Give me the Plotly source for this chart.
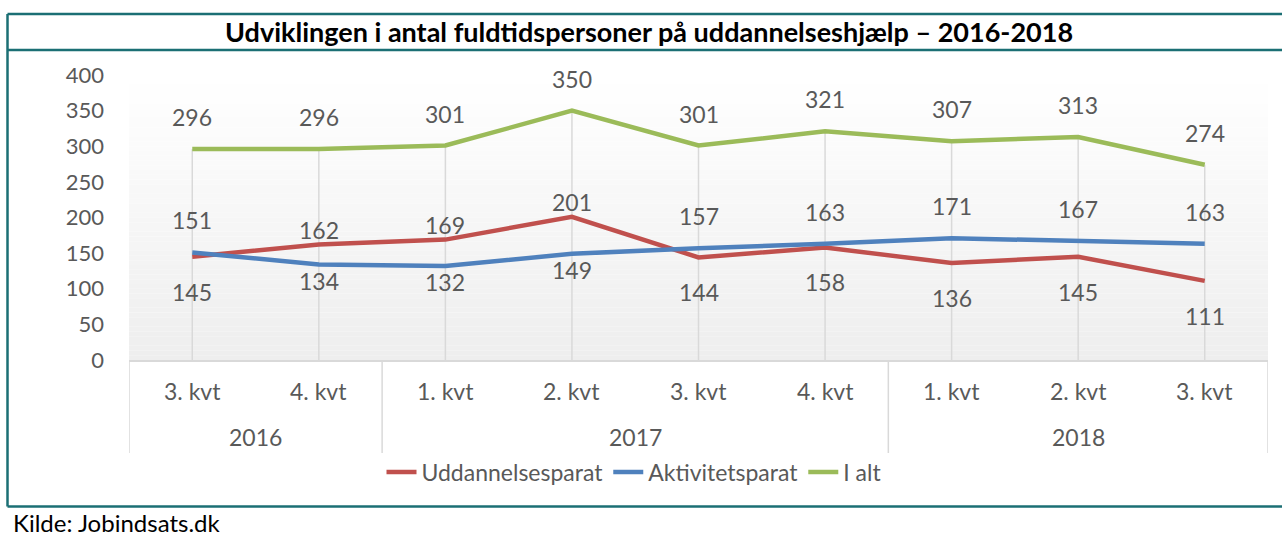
import plotly.graph_objects as go

# ---- data ----
quarters = ["3. kvt", "4. kvt", "1. kvt", "2. kvt", "3. kvt", "4. kvt", "1. kvt", "2. kvt", "3. kvt"]
years = ["2016", "2016", "2017", "2017", "2017", "2017", "2018", "2018", "2018"]
uddannelsesparat = [145, 162, 169, 201, 144, 158, 136, 145, 111]
aktivitetsparat = [151, 134, 132, 149, 157, 163, 171, 167, 163]
i_alt = [296, 296, 301, 350, 301, 321, 307, 313, 274]

# label placement per point ("a" = above, "b" = below)
pos_udd = ["b", "a", "a", "a", "b", "b", "b", "b", "b"]
pos_akt = ["a", "b", "b", "b", "a", "a", "a", "a", "a"]
pos_tot = ["a"] * 9

W, H = 1282, 536
L, R, T, B = 129, 1268, 75, 360  # plot area in pixels
FONT = "Lato"
GRAY = "#595959"
TEAL = "#1b6f74"
FS = 23

def px_x(p):
    return (p - L) / (R - L)

def px_y(p):
    return (B - p) / (B - T)

x = list(range(len(quarters)))

fig = go.Figure()

# drop lines
dx, dy = [], []
for i in x:
    m = max(uddannelsesparat[i], aktivitetsparat[i], i_alt[i])
    dx += [i, i, None]
    dy += [0, m, None]
fig.add_trace(go.Scatter(x=dx, y=dy, mode="lines", line=dict(color="#d9d9d9", width=1.5),
                         showlegend=False, hoverinfo="skip"))

series = [
    ("Uddannelsesparat", uddannelsesparat, "#c0504d", pos_udd, 15, 35),
    ("Aktivitetsparat", aktivitetsparat, "#4f81bd", pos_akt, 32, 16),
    ("I alt", i_alt, "#9bbb59", pos_tot, 32, 32),
]
for name, vals, col, pos, up, down in series:
    fig.add_trace(go.Scatter(x=x, y=vals, name=name, mode="lines",
                             line=dict(color=col, width=4.5), hoverinfo="skip"))
    for i, v in enumerate(vals):
        fig.add_annotation(x=i, y=v, xref="x", yref="y", text=str(v), showarrow=False,
                           yanchor="middle",
                           yshift=up if pos[i] == "a" else -down,
                           font=dict(family=FONT, size=FS, color=GRAY))

shapes = []
# gradient background
n = 60
for k in range(n):
    t = k / (n - 1)
    c = int(round(255 - (255 - 238) * t))
    shapes.append(dict(type="rect", xref="paper", yref="paper", x0=0, x1=1,
                       y0=1 - (k + 1) / n, y1=1 - k / n, line=dict(width=0),
                       fillcolor=f"rgb({c},{c},{c})", layer="below"))

# category group separators
bounds = [-0.5]
for i in range(1, len(years)):
    if years[i] != years[i - 1]:
        bounds.append(i - 0.5)
bounds.append(len(years) - 0.5)
for b in bounds:
    shapes.append(dict(type="line", xref="x", yref="paper", x0=b, x1=b,
                       y0=0, y1=px_y(453), line=dict(color="#d9d9d9", width=1.5)))

# quarter and year labels
for i, q in enumerate(quarters):
    fig.add_annotation(x=i, xref="x", y=px_y(391), yref="paper", text=q, showarrow=False,
                       yanchor="middle", font=dict(family=FONT, size=FS, color=GRAY))
groups = {}
for i, yv in enumerate(years):
    groups.setdefault(yv, []).append(i)
for yv, idx in groups.items():
    fig.add_annotation(x=sum(idx) / len(idx), xref="x", y=px_y(437), yref="paper", text=yv,
                       showarrow=False, yanchor="middle",
                       font=dict(family=FONT, size=FS, color=GRAY))

# frame
for (x0, y0, x1, y1) in [(7.5, 14, 1300, 14), (7.5, 50, 1300, 50), (7.5, 506.5, 1300, 506.5),
                         (7.5, 14, 7.5, 506.5)]:
    shapes.append(dict(type="line", xref="paper", yref="paper", x0=px_x(x0), x1=px_x(x1),
                       y0=px_y(y0), y1=px_y(y1), line=dict(color=TEAL, width=2.5)))

fig.add_annotation(x=px_x(649), y=px_y(32), xref="paper", yref="paper", showarrow=False,
                   yanchor="middle", xanchor="center",
                   text="<b>Udviklingen i antal fuldtidspersoner på uddannelseshjælp – 2016-2018</b>",
                   font=dict(family=FONT, size=27, color="#000000"))
fig.add_annotation(x=px_x(11), y=px_y(522), xref="paper", yref="paper", showarrow=False,
                   xanchor="left", yanchor="middle", text="Kilde: Jobindsats.dk",
                   font=dict(family=FONT, size=24, color="#000000"))

fig.update_layout(
    width=W, height=H,
    margin=dict(l=L, r=W - R, t=T, b=H - B),
    paper_bgcolor="white", plot_bgcolor="white",
    shapes=shapes,
    showlegend=True,
    legend=dict(orientation="h", x=px_x(634), xanchor="center", y=px_y(472), yanchor="middle",
                font=dict(family=FONT, size=FS, color=GRAY), bgcolor="rgba(0,0,0,0)",
                tracegroupgap=0),
    xaxis=dict(range=[-0.5, len(quarters) - 0.5], showgrid=False, zeroline=False,
               showticklabels=False, showline=True, linecolor="#d9d9d9", linewidth=1.5,
               fixedrange=True),
    yaxis=dict(range=[0, 400], dtick=50, showgrid=False, zeroline=False, showline=False,
               tickfont=dict(family=FONT, size=22, color=GRAY), ticks="",
               ticklabelstandoff=24, fixedrange=True),
)

fig.write_html("out.html", config={"displayModeBar": False},
               post_script="document.body.style.margin='0';")
